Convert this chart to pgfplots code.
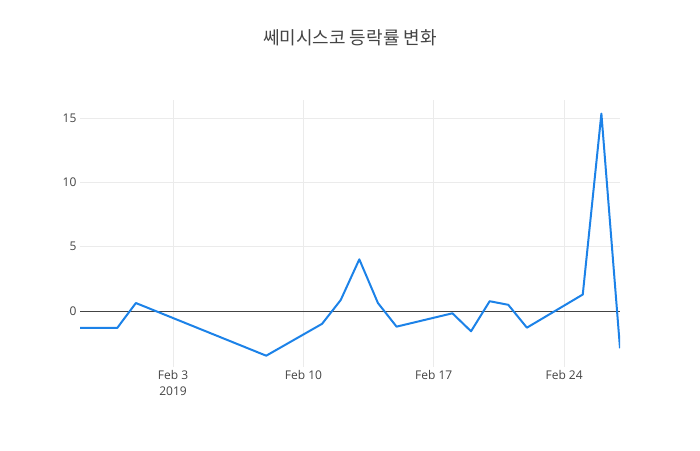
\documentclass[border=0pt]{standalone}
\usepackage{fontspec}
\setmainfont{Open Sans}
\newfontfamily\kr{Noto Sans CJK KR}
\usepackage{pgfplots}
\pgfplotsset{compat=1.18}
\usepackage{pgfplotstable}

\definecolor{lineblue}{RGB}{28,130,232}
\definecolor{gridgray}{RGB}{235,235,235}
\definecolor{ticktext}{RGB}{68,68,68}

% day number: Jan 29 = 29, Feb 1 = 32, ... Feb 27 = 58
\pgfplotstableread{
day rate
29 -1.32
30 -1.32
31 -1.32
32  0.62
39 -3.48
42 -1.00
43  0.85
44  4.02
45  0.62
46 -1.22
49 -0.18
50 -1.58
51  0.76
52  0.48
53 -1.30
56  1.28
57 15.36
58 -2.90
}\ratetable

\begin{document}
\begin{tikzpicture}[x=1pt,y=1pt]
\path[use as bounding box] (-80,-83) rectangle (620,367);
\begin{axis}[
    at={(0,0)}, anchor=south west,
    scale only axis,
    width=540pt, height=267pt,
    xmin=29, xmax=58,
    ymin=-4.36, ymax=16.42,
    axis line style={draw=none},
    major tick style={draw=none},
    grid=major,
    major grid style={gridgray, line width=0.8pt},
    xtick={34,41,48,55},
    xticklabels={Feb 3\\2019, Feb 10, Feb 17, Feb 24},
    xticklabel style={align=center, font=\fontsize{12}{16}\selectfont, text=ticktext},
    ytick={0,5,10,15},
    yticklabel style={font=\fontsize{12}{14}\selectfont, text=ticktext},
    /pgf/number format/assume math mode=true,
    title={\kr\fontsize{18}{20}\selectfont 쎄미시스코 등락률 변화},
    title style={at={(axis description cs:0.5,1)}, anchor=center, yshift=56pt, text=ticktext},
]
\addplot[draw=ticktext, line width=0.8pt, forget plot] coordinates {(29,0) (58,0)};
\addplot[lineblue, line width=2pt, line join=round, mark=none] table[x=day, y=rate] {\ratetable};
\end{axis}
\end{tikzpicture}
\end{document}
